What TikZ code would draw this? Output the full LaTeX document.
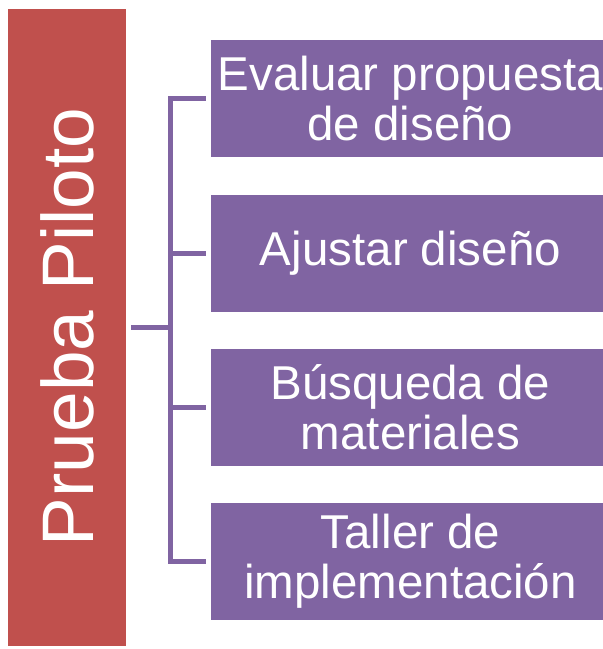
\documentclass[tikz,border=0pt]{standalone}
\usepackage{fontspec}
\setmainfont{Liberation Sans}
\usepackage{tikz}
\usetikzlibrary{positioning,calc}

\definecolor{pilotred}{HTML}{C0504D}
\definecolor{taskpurple}{HTML}{8064A2}

\begin{document}
\begin{tikzpicture}[x=1pt,y=-1pt,
    pilotbox/.style={fill=pilotred, draw=none, text=white, minimum width=118pt, minimum height=637pt, inner sep=0pt},
    taskbox/.style={fill=taskpurple, draw=none, text=white, minimum width=399pt, minimum height=117pt, inner sep=0pt, align=center, font=\fontsize{47.5}{50}\selectfont},
    conn/.style={draw=taskpurple, line width=5pt}]
                        \useasboundingbox (0,0) rectangle (603,649);
                        \node[pilotbox] (pp) at (67, 327) {\rotatebox{90}{\fontsize{73}{73}\selectfont Prueba Piloto}};
                        \node[taskbox] (t1) at (410.5, 98.5) {Evaluar propuesta\\de diseño};
                        \node[taskbox] (t2) at (410.5, 253) {Ajustar diseño};
                        \node[taskbox] (t3) at (410.5, 407) {Búsqueda de\\materiales};
                        \node[taskbox] (t4) at (410.5, 561) {Taller de\\implementación};
                        \coordinate (spine) at (170, 330);

                        \draw[conn, shorten <=5pt] (pp.east) -- (spine |- pp.east);
                        \draw[conn, line join=miter] ([xshift=-5pt]t1.west) -| (spine |- t4.west) -- ([xshift=-5pt]t4.west);
                        \foreach \to in {t2,t3}
                            \draw[conn, shorten >=5pt] (spine |- \to.west) -- (\to.west);
                    \end{tikzpicture}
\end{document}
